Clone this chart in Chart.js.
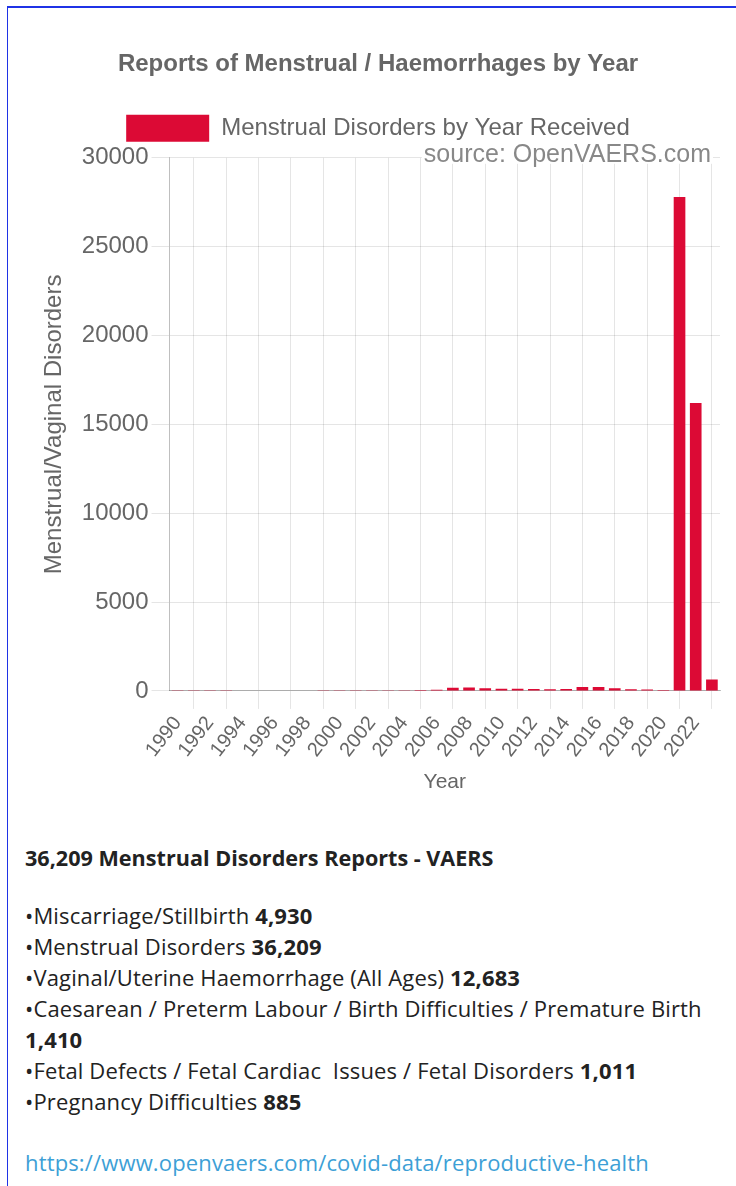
<!DOCTYPE html>
<html>
<head>
<meta charset="utf-8">
<script src="https://cdn.jsdelivr.net/npm/chart.js@4.4.1/dist/chart.umd.min.js"></script>
<style>
  body { margin: 0; background: #fff; width: 736px; height: 1186px; overflow: hidden; position: relative; font-family: "Open Sans", sans-serif; }
  .frame { position: absolute; left: 7px; top: 6px; width: 760px; height: 1220px; border-top: 2px solid #1f33e6; border-left: 1px solid #1f33e6; }
  #wrap { position: absolute; left: 8px; top: 8px; width: 728px; height: 810px; }
  .notes { position: absolute; left: 25px; top: 842px; width: 705px; color: #222; font-size: 22px; line-height: 31px; letter-spacing: 0.15px; }
  .notes p { margin: 0; }
  .notes .head { font-weight: 700; font-size: 21.6px; margin-bottom: 27px; letter-spacing: 0; }
  .notes .list { margin-bottom: 30px; }
  .notes a { color: #3d9fd6; text-decoration: none; }
</style>
</head>
<body>
<div class="frame"></div>
<div id="wrap"><canvas id="grafico"></canvas></div>
<div class="notes">
  <p class="head">36,209 Menstrual Disorders Reports - VAERS</p>
  <p class="list">
    •Miscarriage/Stillbirth <b>4,930</b><br>
    •Menstrual Disorders <b>36,209</b><br>
    •Vaginal/Uterine Haemorrhage (All Ages) <b>12,683</b><br>
    •Caesarean / Preterm Labour / Birth Difficulties / Premature Birth <b>1,410</b><br>
    •Fetal Defects / Fetal Cardiac&nbsp; Issues / Fetal Disorders <b>1,011</b><br>
    •Pregnancy Difficulties <b>885</b>
  </p>
  <p><a href="#">https://www.openvaers.com/covid-data/reproductive-health</a></p>
</div>
<script>
const years = ['1990', '1991', '1992', '1993', '1994', '1995', '1996', '1997', '1998', '1999',
  '2000', '2001', '2002', '2003', '2004', '2005', '2006', '2007', '2008', '2009',
  '2010', '2011', '2012', '2013', '2014', '2015', '2016', '2017', '2018', '2019',
  '2020', '2021', '2022', '2023'];
const menstrualReports = [5, 8, 10, 15, 20, 20, 22, 25, 30, 40,
  45, 35, 40, 45, 40, 50, 70, 180, 200, 150,
  130, 120, 110, 100, 110, 230, 230, 150, 90, 80,
  60, 27800, 16200, 640];
const yMin = 0;
const yMax = 30000;
const yStep = 5000;

const grey = '#666';
Chart.defaults.font.family = '"Liberation Sans", Arial, Helvetica, sans-serif';
Chart.defaults.color = grey;

// texto "source" encima de la linea superior, y algo de aire bajo la leyenda
const fuente = {
  id: 'fuente',
  beforeInit(chart) {
    const fitOriginal = chart.legend.fit;
    chart.legend.fit = function () {
      fitOriginal.bind(chart.legend)();
      this.height += 6;
    };
  },
  afterDraw(chart) {
    const { ctx, chartArea } = chart;
    const texto = 'source: OpenVAERS.com';
    ctx.save();
    ctx.font = '25px "Liberation Sans", Arial, sans-serif';
    const ancho = ctx.measureText(texto).width;
    const x = chartArea.right - 9;
    const y = chartArea.top - 3;
    ctx.fillStyle = '#fff';
    ctx.fillRect(x - ancho - 2, y - 14, ancho + 4, 23);
    ctx.fillStyle = '#888';
    ctx.textAlign = 'right';
    ctx.textBaseline = 'middle';
    ctx.fillText(texto, x, y);
    ctx.restore();
  }
};

new Chart(document.querySelector('#grafico'), {
  type: 'bar',
  data: {
    labels: years,
    datasets: [
      {
        label: 'Menstrual Disorders by Year Received',
        data: menstrualReports,
        backgroundColor: '#dc0a35',
        borderWidth: 0,
        barPercentage: 0.9,
        categoryPercentage: 0.8
      }
    ]
  },
  options: {
    responsive: true,
    maintainAspectRatio: false,
    animation: false,
    layout: {
      padding: { left: 28, right: 16, bottom: 21 }
    },
    plugins: {
      title: {
        display: true,
        text: 'Reports of Menstrual / Haemorrhages by Year',
        color: grey,
        font: { size: 24, weight: 'bold' },
        padding: { top: 42, bottom: 26 }
      },
      legend: {
        labels: {
          boxWidth: 83,
          boxHeight: 27,
          color: grey,
          font: { size: 24 }
        }
      },
      tooltip: { enabled: false }
    },
    scales: {
      x: {
        grid: { color: 'rgba(0,0,0,0.1)', tickLength: 18, offset: true },
        border: { color: 'rgba(0,0,0,0.25)' },
        ticks: {
          autoSkip: false,
          maxRotation: 52,
          minRotation: 52,
          color: grey,
          font: { size: 20 },
          callback: (valor, indice) => (indice % 2 === 0 ? years[indice] : null)
        },
        title: {
          display: true,
          text: 'Year',
          color: grey,
          font: { size: 21 },
          padding: { top: 5, bottom: 2 }
        }
      },
      y: {
        min: yMin,
        max: yMax,
        grid: { color: 'rgba(0,0,0,0.1)', tickLength: 18 },
        border: { color: 'rgba(0,0,0,0.25)' },
        ticks: {
          stepSize: yStep,
          color: grey,
          font: { size: 24 },
          callback: (valor) => String(valor)
        },
        title: {
          display: true,
          text: 'Menstrual/Vaginal Disorders',
          color: grey,
          font: { size: 24 },
          padding: { top: 4, bottom: 10 }
        }
      }
    }
  },
  plugins: [fuente]
});
</script>
</body>
</html>
